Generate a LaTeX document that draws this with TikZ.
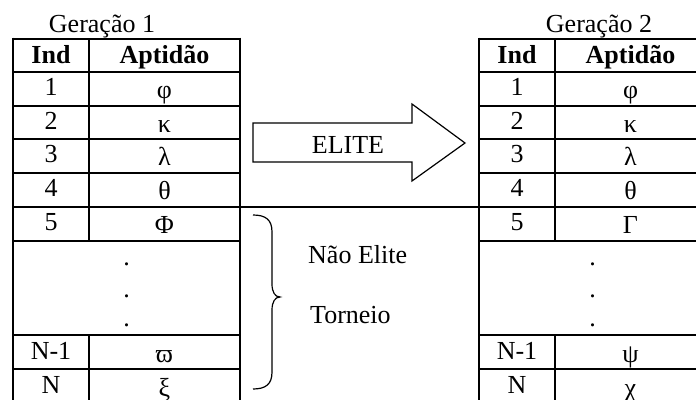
\documentclass[tikz,border=0pt]{standalone}
\usepackage{fontspec}
\setmainfont{Liberation Serif}
\begin{document}
\begin{tikzpicture}[x=1pt,y=-1pt,
  grid/.style={line width=2pt},
  cell/.style={anchor=base, inner sep=0pt, font=\fontsize{26}{31}\selectfont},
  greek/.style={cell, yshift=-3pt},
  head/.style={anchor=base, inner sep=0pt, font=\fontsize{26}{31}\selectfont\bfseries},
  lbl/.style={anchor=base west, inner sep=0pt, font=\fontsize{26}{31}\selectfont},
  thinline/.style={line width=1.2pt, line join=miter}]
\useasboundingbox (0,0) rectangle (696,399);
\clip (0,0) rectangle (696,399);

% ---------- left table ----------
\foreach \y in {38.5,72,106,139,172.5,240.5,335,369}
  \draw[grid] (13,\y) -- (240,\y);
\draw[grid] (13,206.5) -- (706,206.5);
\draw[grid] (13,37.5) -- (13,410);
\draw[grid] (240,37.5) -- (240,410);
\draw[grid] (89,38.5) -- (89,240.5);
\draw[grid] (89,335) -- (89,410);

% ---------- right table ----------
\foreach \y in {38.5,72,106,139,172.5,240.5,335,369}
  \draw[grid] (479,\y) -- (706,\y);
\draw[grid] (479,37.5) -- (479,410);
\draw[grid] (555,38.5) -- (555,240.5);
\draw[grid] (555,335) -- (555,410);

% ---------- titles ----------
\node[cell] (t1) at (102,32) {Geração 1};
\node[cell] (t2) at (599,32) {Geração 2};

% ---------- headers ----------
\node[head] (h1i) at (51,63) {Ind};
\node[head] (h1a) at (164.5,63) {Aptidão};
\node[head] (h2i) at (517,63) {Ind};
\node[head] (h2a) at (630.5,63) {Aptidão};

% ---------- left rows ----------
\node[cell] (l1i) at (51,95) {1};   \node[greek] (l1a) at (164.5,95) {φ};
\node[cell] (l2i) at (51,129) {2};  \node[greek] (l2a) at (164.5,129) {κ};
\node[cell] (l3i) at (51,162) {3};  \node[greek] (l3a) at (164.5,162) {λ};
\node[cell] (l4i) at (51,196) {4};  \node[greek] (l4a) at (164.5,196) {θ};
\node[cell] (l5i) at (51,230) {5};  \node[greek] (l5a) at (164.5,230) {Φ};
\node[cell] (ld1) at (126.5,265.5) {.};
\node[cell] (ld2) at (126.5,297.5) {.};
\node[cell] (ld3) at (126.5,326.5) {.};
\node[cell] (lmi) at (51,359) {N-1}; \node[greek] (lma) at (164.5,359) {ϖ};
\node[cell] (lni) at (51,393) {N};   \node[greek] (lna) at (164.5,393) {ξ};

% ---------- right rows ----------
\node[cell] (r1i) at (517,95) {1};   \node[greek] (r1a) at (630.5,95) {φ};
\node[cell] (r2i) at (517,129) {2};  \node[greek] (r2a) at (630.5,129) {κ};
\node[cell] (r3i) at (517,162) {3};  \node[greek] (r3a) at (630.5,162) {λ};
\node[cell] (r4i) at (517,196) {4};  \node[greek] (r4a) at (630.5,196) {θ};
\node[cell] (r5i) at (517,230) {5};  \node[greek] (r5a) at (630.5,230) {Γ};
\node[cell] (rd1) at (592.5,265.5) {.};
\node[cell] (rd2) at (592.5,297.5) {.};
\node[cell] (rd3) at (592.5,326.5) {.};
\node[cell] (rmi) at (517,359) {N-1}; \node[greek] (rma) at (630.5,359) {ψ};
\node[cell] (rni) at (517,393) {N};   \node[greek] (rna) at (630.5,393) {χ};

% ---------- ELITE block arrow ----------
\draw[thinline] (253,123) -- (412,123) -- (412,104) -- (465,143) -- (412,181)
  -- (412,162) -- (253,162) -- cycle;
\node[cell] (elite) at (348,153) {ELITE};

% ---------- brace ----------
\draw[thinline] (253,215) .. controls (266,215) and (272,220) .. (272,232)
  -- (272,284) .. controls (272,292) and (275,297) .. (280,297)
  .. controls (275,297) and (272,302) .. (272,310)
  -- (272,372) .. controls (272,384) and (266,389) .. (253,389);
\node[lbl] (nel) at (308,263) {Não Elite};
\node[lbl] (tor) at (310,323) {Torneio};
\end{tikzpicture}
\end{document}
